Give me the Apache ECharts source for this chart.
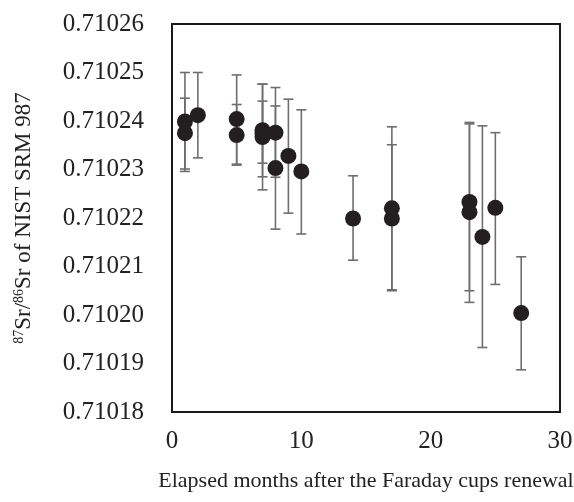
<!DOCTYPE html>
<html>
<head>
<meta charset="utf-8">
<script src="https://cdn.jsdelivr.net/npm/echarts@6/dist/echarts.min.js"></script>
<style>
  html, body { margin: 0; padding: 0; background: #fff; }
  #chart { width: 574px; height: 502px; }
</style>
</head>
<body>
<div id="chart"></div>
<script>
// elapsed months, measured ratio and the ends of each error bar
const months = [1, 1, 2, 5, 5, 7, 7, 7, 8, 8, 9, 10, 14, 17, 17, 23, 23, 24, 25, 27];
const ratios = [
  0.7102399, 0.7102375, 0.7102412, 0.7102404, 0.7102371, 0.7102381, 0.7102367,
  0.7102375, 0.7102376, 0.7102303, 0.7102328, 0.7102296, 0.7102199, 0.7102220,
  0.7102199, 0.7102233, 0.7102212, 0.7102161, 0.7102221, 0.7102004,
];
const errHigh = [
  0.7102500, 0.7102447, 0.7102500, 0.7102495, 0.7102434, 0.7102476, 0.7102476,
  0.7102441, 0.7102469, 0.7102431, 0.7102445, 0.7102423, 0.7102287, 0.7102388,
  0.7102351, 0.7102397, 0.7102394, 0.7102390, 0.7102376, 0.7102120,
];
const errLow = [
  0.7102296, 0.7102301, 0.7102324, 0.7102311, 0.7102309, 0.7102285, 0.7102258,
  0.7102313, 0.7102284, 0.7102177, 0.7102210, 0.7102167, 0.7102113, 0.7102052,
  0.7102050, 0.7102050, 0.7102026, 0.7101933, 0.7102063, 0.7101887,
];

const font = "'Liberation Serif', 'Times New Roman', serif";

const chart = echarts.init(document.getElementById("chart"));

chart.setOption({
  animation: false,
  grid: {
    left: 172,
    right: 14,
    top: 24,
    bottom: 90,
    containLabel: false,
    outerBoundsMode: "none",
    show: true,
    borderColor: "#1a1a1a",
    borderWidth: 2,
  },
  xAxis: {
    type: "value",
    min: 0,
    max: 30,
    interval: 10,
    name: "Elapsed months after the Faraday cups renewal",
    nameLocation: "middle",
    nameGap: 58,
    nameTextStyle: { fontFamily: font, fontSize: 22, color: "#222" },
    axisLine: { show: false },
    axisTick: { show: false },
    splitLine: { show: false },
    axisLabel: { fontFamily: font, fontSize: 25, color: "#222", margin: 17 },
  },
  yAxis: {
    type: "value",
    min: 0.71018,
    max: 0.71026,
    interval: 0.00001,
    name: "{sup|87}{n|Sr/}{sup|86}{n|Sr of NIST SRM 987}",
    nameLocation: "middle",
    nameGap: 137,
    nameTextStyle: {
      rich: {
        n: { fontFamily: font, fontSize: 23, color: "#222" },
        sup: { fontFamily: font, fontSize: 14, color: "#222", verticalAlign: "top", lineHeight: 23 },
      },
    },
    axisLine: { show: false },
    axisTick: { show: false },
    splitLine: { show: false },
    axisLabel: {
      fontFamily: font,
      fontSize: 25,
      color: "#222",
      margin: 28,
      formatter: (v) => v.toFixed(5),
    },
  },
  series: [
    {
      type: "custom",
      z: 1,
      data: months.map((m, i) => [m, errLow[i], errHigh[i]]),
      renderItem: (params, api) => {
        const lo = api.coord([api.value(0), api.value(1)]);
        const hi = api.coord([api.value(0), api.value(2)]);
        const cap = 5;
        const style = { stroke: "#6e6e6e", lineWidth: 1.6 };
        return {
          type: "group",
          children: [
            { type: "line", shape: { x1: lo[0], y1: lo[1], x2: hi[0], y2: hi[1] }, style },
            { type: "line", shape: { x1: hi[0] - cap, y1: hi[1], x2: hi[0] + cap, y2: hi[1] }, style },
            { type: "line", shape: { x1: lo[0] - cap, y1: lo[1], x2: lo[0] + cap, y2: lo[1] }, style },
          ],
        };
      },
    },
    {
      type: "scatter",
      z: 2,
      symbol: "circle",
      symbolSize: 16,
      itemStyle: { color: "#231f20", opacity: 1 },
      data: months.map((m, i) => [m, ratios[i]]),
    },
  ],
});
</script>
</body>
</html>
